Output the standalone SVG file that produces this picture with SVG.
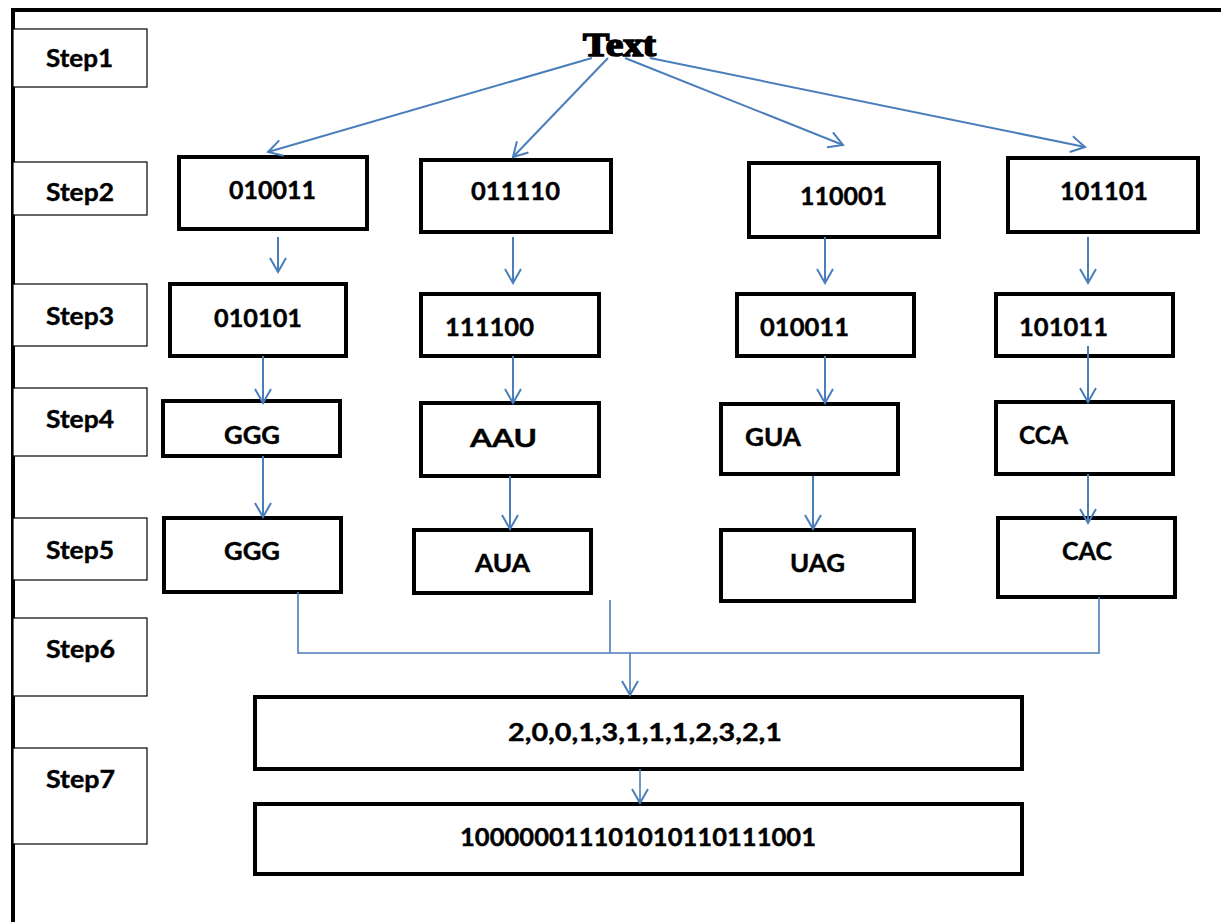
<svg xmlns="http://www.w3.org/2000/svg" width="1221" height="922" viewBox="0 0 1221 922">
  <style>
    .frame { fill: none; stroke: #000; stroke-width: 4; }
    .step rect { fill: #fff; stroke: #000; stroke-width: 1.2; }
    .node rect { fill: #fff; stroke: #000; stroke-width: 4; }
    .lbl { font-family: Lato, "Open Sans", "Liberation Sans", sans-serif; font-weight: bold; font-size: 25px; fill: #000; stroke: #000; stroke-width: 0.4; }
    .step .lbl { font-size: 24px; }
    .title { font-family: "Liberation Serif", "Times New Roman", serif; font-weight: bold; font-size: 33px; fill: #000; stroke: #000; stroke-width: 1.6; }
    .conn line, .conn polyline { stroke: #4a7ebb; stroke-width: 2; fill: none; }
    .conn .thin { stroke-width: 1.6; }
  </style>
  <defs>
    <marker id="arr" markerUnits="userSpaceOnUse" markerWidth="20" markerHeight="20" refX="15" refY="9" orient="auto">
      <path d="M1,1 L15,9 L1,17" fill="none" stroke="#4a7ebb" stroke-width="2"/>
    </marker>
  </defs>
  <rect width="1221" height="922" fill="#fff"/>

  <!-- outer frame: top and left edges -->
  <path class="frame" d="M13,922 L13,10 L1221,10"/>

  <!-- step labels -->
  <g id="step1" class="step"><rect x="13" y="29" width="134" height="58"/><text class="lbl" x="46" y="67" textLength="67" lengthAdjust="spacingAndGlyphs">Step1</text></g>
  <g id="step2" class="step"><rect x="13" y="162" width="134" height="53"/><text class="lbl" x="46" y="201" textLength="68" lengthAdjust="spacingAndGlyphs">Step2</text></g>
  <g id="step3" class="step"><rect x="13" y="284" width="134" height="62"/><text class="lbl" x="46" y="325" textLength="68" lengthAdjust="spacingAndGlyphs">Step3</text></g>
  <g id="step4" class="step"><rect x="13" y="388" width="134" height="68"/><text class="lbl" x="46" y="428" textLength="68" lengthAdjust="spacingAndGlyphs">Step4</text></g>
  <g id="step5" class="step"><rect x="13" y="518" width="134" height="62"/><text class="lbl" x="46" y="559" textLength="68" lengthAdjust="spacingAndGlyphs">Step5</text></g>
  <g id="step6" class="step"><rect x="13" y="618" width="134" height="78"/><text class="lbl" x="46" y="658" textLength="69" lengthAdjust="spacingAndGlyphs">Step6</text></g>
  <g id="step7" class="step"><rect x="13" y="748" width="134" height="96"/><text class="lbl" x="46" y="788" textLength="69" lengthAdjust="spacingAndGlyphs">Step7</text></g>

  <!-- source -->
  <g id="text"><text class="title" x="583" y="56" textLength="73" lengthAdjust="spacingAndGlyphs">Text</text></g>

  <!-- column 1 -->
  <g id="c1s2" class="node"><rect x="179" y="157" width="188" height="72"/><text class="lbl" x="229" y="199" textLength="87" lengthAdjust="spacingAndGlyphs">010011</text></g>
  <g id="c1s3" class="node"><rect x="170" y="284" width="176" height="72"/><text class="lbl" x="214" y="327" textLength="88" lengthAdjust="spacingAndGlyphs">010101</text></g>
  <g id="c1s4" class="node"><rect x="163" y="401" width="177" height="55"/><text class="lbl" x="224" y="444" textLength="56" lengthAdjust="spacingAndGlyphs">GGG</text></g>
  <g id="c1s5" class="node"><rect x="164" y="518" width="177" height="74"/><text class="lbl" x="224" y="560" textLength="56" lengthAdjust="spacingAndGlyphs">GGG</text></g>

  <!-- column 2 -->
  <g id="c2s2" class="node"><rect x="421" y="160" width="190" height="72"/><text class="lbl" x="471" y="200" textLength="89" lengthAdjust="spacingAndGlyphs">011110</text></g>
  <g id="c2s3" class="node"><rect x="421" y="294" width="178" height="62"/><text class="lbl" x="445" y="336" textLength="89" lengthAdjust="spacingAndGlyphs">111100</text></g>
  <g id="c2s4" class="node"><rect x="421" y="403" width="178" height="73"/><text class="lbl" x="470" y="447" textLength="67" lengthAdjust="spacingAndGlyphs">AAU</text></g>
  <g id="c2s5" class="node"><rect x="414" y="530" width="177" height="63"/><text class="lbl" x="475" y="572" textLength="55" lengthAdjust="spacingAndGlyphs">AUA</text></g>

  <!-- column 3 -->
  <g id="c3s2" class="node"><rect x="749" y="163" width="190" height="74"/><text class="lbl" x="800" y="205" textLength="87" lengthAdjust="spacingAndGlyphs">110001</text></g>
  <g id="c3s3" class="node"><rect x="737" y="294" width="177" height="62"/><text class="lbl" x="760" y="336" textLength="89" lengthAdjust="spacingAndGlyphs">010011</text></g>
  <g id="c3s4" class="node"><rect x="721" y="404" width="177" height="70"/><text class="lbl" x="745" y="446" textLength="56" lengthAdjust="spacingAndGlyphs">GUA</text></g>
  <g id="c3s5" class="node"><rect x="721" y="530" width="193" height="71"/><text class="lbl" x="790" y="572" textLength="55" lengthAdjust="spacingAndGlyphs">UAG</text></g>

  <!-- column 4 -->
  <g id="c4s2" class="node"><rect x="1008" y="158" width="190" height="74"/><text class="lbl" x="1060" y="200" textLength="88" lengthAdjust="spacingAndGlyphs">101101</text></g>
  <g id="c4s3" class="node"><rect x="996" y="294" width="177" height="62"/><text class="lbl" x="1019" y="336" textLength="89" lengthAdjust="spacingAndGlyphs">101011</text></g>
  <g id="c4s4" class="node"><rect x="996" y="402" width="177" height="72"/><text class="lbl" x="1019" y="444" textLength="49" lengthAdjust="spacingAndGlyphs">CCA</text></g>
  <g id="c4s5" class="node"><rect x="998" y="518" width="177" height="79"/><text class="lbl" x="1062" y="560" textLength="50" lengthAdjust="spacingAndGlyphs">CAC</text></g>

  <!-- merged results -->
  <g id="digits" class="node"><rect x="255" y="697" width="767" height="72"/><text class="lbl" x="508" y="741" textLength="274" lengthAdjust="spacingAndGlyphs">2,0,0,1,3,1,1,1,2,3,2,1</text></g>
  <g id="bits" class="node"><rect x="255" y="804" width="767" height="70"/><text class="lbl" x="460" y="846" textLength="356" lengthAdjust="spacingAndGlyphs">100000011101010110111001</text></g>

  <!-- connectors -->
  <g id="connectors" class="conn">
    <line x1="592" y1="58" x2="268" y2="152" marker-end="url(#arr)"/>
    <line x1="608" y1="58" x2="513" y2="157" marker-end="url(#arr)"/>
    <line x1="625" y1="58" x2="843" y2="145" marker-end="url(#arr)"/>
    <line x1="650" y1="58" x2="1085" y2="147" marker-end="url(#arr)"/>

    <line x1="278" y1="237" x2="278" y2="272" marker-end="url(#arr)"/>
    <line x1="263" y1="356" x2="263" y2="403" marker-end="url(#arr)"/>
    <line x1="263" y1="456" x2="263" y2="517" marker-end="url(#arr)"/>

    <line x1="513" y1="237" x2="513" y2="283" marker-end="url(#arr)"/>
    <line x1="513" y1="356" x2="513" y2="403" marker-end="url(#arr)"/>
    <line x1="510" y1="476" x2="510" y2="529" marker-end="url(#arr)"/>

    <line x1="825" y1="237" x2="825" y2="283" marker-end="url(#arr)"/>
    <line x1="825" y1="356" x2="825" y2="403" marker-end="url(#arr)"/>
    <line x1="813" y1="476" x2="813" y2="529" marker-end="url(#arr)"/>

    <line x1="1088" y1="237" x2="1088" y2="283" marker-end="url(#arr)"/>
    <line x1="1088" y1="346" x2="1088" y2="402" marker-end="url(#arr)"/>
    <line x1="1088" y1="474" x2="1088" y2="523" marker-end="url(#arr)"/>

    <polyline class="thin" points="298,592 298,653 1099,653 1099,597"/>
    <line class="thin" x1="610" y1="600" x2="610" y2="653"/>
    <line class="thin" x1="630" y1="653" x2="630" y2="695" marker-end="url(#arr)"/>
    <line class="thin" x1="640" y1="769" x2="640" y2="803" marker-end="url(#arr)"/>
  </g>
</svg>
